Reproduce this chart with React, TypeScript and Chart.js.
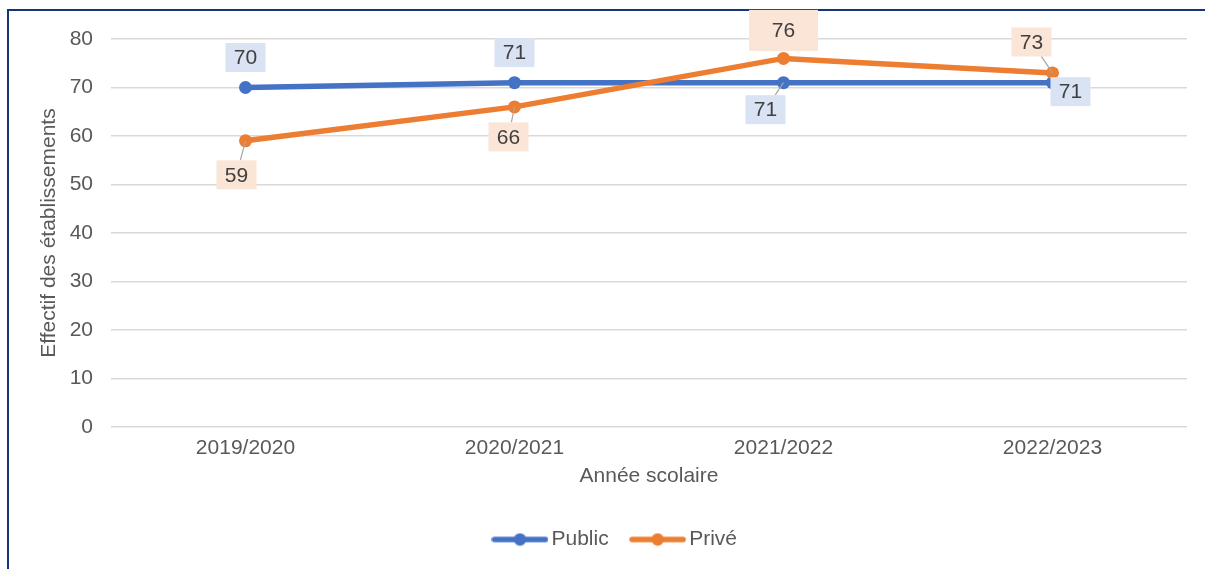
import React, { useEffect, useRef } from "react";
import { Chart, registerables } from "chart.js";

Chart.register(...registerables);

const categories = ["2019/2020", "2020/2021", "2021/2022", "2022/2023"];
const publicValues = [70, 71, 71, 71];
const priveValues = [59, 66, 76, 73];
const yTicks = [0, 10, 20, 30, 40, 50, 60, 70, 80];
const seriesNames = ["Public", "Privé"];
const xTitle = "Année scolaire";
const yTitle = "Effectif des établissements";

// label styling (offsets relative to point, box sizes, leader flags)
const publicLabelOffsets = [[0, -30], [0, -30], [-18, 27], [18, 9]];
const priveLabelOffsets = [[-9, 34], [-6, 30], [0, -28], [-21, -31]];
const publicLabelBoxes = [[40, 29], [40, 29], [40, 29], [40, 29]];
const priveLabelBoxes = [[40, 29], [40, 29], [69, 41], [40, 29]];
const publicLeaders = [false, false, true, false];
const priveLeaders = [true, true, false, true];

const BLUE = "#4472c4";
const ORANGE = "#ed7d31";
const FONT = "'Liberation Sans', Arial, Helvetica, sans-serif";
const FS = 21;
const LEGEND_SHIFT = 6;

function makeLegendIcon(color: string) {
  const c = document.createElement("canvas");
  c.width = 57;
  c.height = 14;
  const ctx = c.getContext("2d")!;
  ctx.strokeStyle = color;
  ctx.lineWidth = 5.5;
  ctx.lineCap = "round";
  ctx.beginPath();
  ctx.moveTo(3, 7);
  ctx.lineTo(54, 7);
  ctx.stroke();
  ctx.fillStyle = color;
  ctx.beginPath();
  ctx.arc(28.5, 7, 6.2, 0, Math.PI * 2);
  ctx.fill();
  return c;
}

const legendShiftPlugin = {
  id: "legendShift",
  afterLayout(chart: any) {
    const lg = chart.legend;
    if (lg) {
      lg.left += LEGEND_SHIFT;
      lg.right += LEGEND_SHIFT;
    }
  },
};

const labelsPlugin = {
  id: "boxLabels",
  afterDatasetsDraw(chart: any) {
    const ctx = chart.ctx;
    const cfgs = [
      { offsets: publicLabelOffsets, boxes: publicLabelBoxes, leaders: publicLeaders, bg: "#dae3f3" },
      { offsets: priveLabelOffsets, boxes: priveLabelBoxes, leaders: priveLeaders, bg: "#fbe5d6" },
    ];
    chart.data.datasets.forEach((ds: any, di: number) => {
      const meta = chart.getDatasetMeta(di);
      const cfg = cfgs[di];
      meta.data.forEach((pt: any, i: number) => {
        const [dx, dy] = cfg.offsets[i];
        const [w, h] = cfg.boxes[i];
        const cx = pt.x + dx;
        const cy = pt.y + dy;
        const l = cx - w / 2, t = cy - h / 2;
        if (cfg.leaders[i]) {
          const tx = dx !== 0 ? (w / 2) / Math.abs(dx) : Infinity;
          const ty = dy !== 0 ? (h / 2) / Math.abs(dy) : Infinity;
          const s = 1 - Math.min(tx, ty);
          const ex = pt.x + dx * s;
          const ey = pt.y + dy * s;
          ctx.save();
          ctx.strokeStyle = "#a6a6a6";
          ctx.lineWidth = 1.2;
          ctx.beginPath();
          ctx.moveTo(pt.x, pt.y);
          ctx.lineTo(ex, ey);
          ctx.stroke();
          ctx.restore();
        }
        ctx.save();
        ctx.fillStyle = cfg.bg;
        ctx.fillRect(l, t, w, h);
        ctx.fillStyle = "#404040";
        ctx.font = `${FS}px ${FONT}`;
        ctx.textAlign = "center";
        ctx.textBaseline = "middle";
        ctx.fillText(String(ds.data[i]), cx, cy + 1);
        ctx.restore();
      });
    });
  },
};

export default function App() {
  const ref = useRef<HTMLCanvasElement>(null);
  useEffect(() => {
    if (!ref.current) return;
    const chart = new Chart(ref.current, {
      type: "line",
      data: {
        labels: categories,
        datasets: [
          {
            label: seriesNames[0],
            data: publicValues,
            borderColor: BLUE,
            backgroundColor: BLUE,
            borderWidth: 5.5,
            pointRadius: 6.5,
            pointHoverRadius: 6.5,
            pointBorderWidth: 0,
            order: 1,
          },
          {
            label: seriesNames[1],
            data: priveValues,
            borderColor: ORANGE,
            backgroundColor: ORANGE,
            borderWidth: 5.5,
            pointRadius: 6.5,
            pointHoverRadius: 6.5,
            pointBorderWidth: 0,
            order: 0,
          },
        ],
      },
      options: {
        animation: false,
        responsive: false,
        maintainAspectRatio: false,
        layout: { padding: { left: 37, top: 39, right: 18, bottom: 0 } },
        plugins: {
          tooltip: { enabled: false },
          legend: {
            position: "bottom",
            labels: {
              usePointStyle: true,
              pointStyleWidth: 42,
              padding: 28,
              color: "#595959",
              font: { family: FONT, size: FS },
              generateLabels: (c: any) =>
                c.data.datasets.map((d: any, i: number) => ({
                  text: d.label,
                  pointStyle: makeLegendIcon(i === 0 ? BLUE : ORANGE),
                  fillStyle: d.borderColor,
                  strokeStyle: d.borderColor,
                  lineWidth: 0,
                  fontColor: "#595959",
                  datasetIndex: i,
                  hidden: false,
                })),
            },
          },
        },
        scales: {
          x: {
            offset: true,
            grid: { display: false, drawTicks: false },
            border: { display: false },
            ticks: { color: "#595959", font: { family: FONT, size: FS }, padding: 9, maxRotation: 0 },
            title: {
              display: true,
              text: xTitle,
              color: "#595959",
              font: { family: FONT, size: FS },
              padding: { top: 0, bottom: 12 },
            },
            afterFit: (s: any) => {
              s.height = 74;
            },
          },
          y: {
            min: 0,
            max: 80,
            afterBuildTicks: (s: any) => {
              s.ticks = yTicks.map((v) => ({ value: v }));
            },
            grid: { color: "#d9d9d9", lineWidth: 1.5, drawTicks: false },
            border: { display: false },
            ticks: { color: "#595959", font: { family: FONT, size: FS }, padding: 18 },
            title: {
              display: true,
              text: yTitle,
              color: "#595959",
              font: { family: FONT, size: FS },
              padding: 0,
            },
            afterFit: (s: any) => {
              s.width = 74;
            },
          },
        },
      },
      plugins: [labelsPlugin, legendShiftPlugin],
    });
    return () => chart.destroy();
  }, []);

  return (
    <div style={{ position: "fixed", left: 0, top: 0, width: 1205, height: 569, overflow: "hidden", background: "#fff" }}>
      <div
        style={{
          position: "absolute",
          left: 7,
          top: 9,
          width: 1260,
          height: 620,
          border: "2px solid #14357a",
          boxSizing: "border-box",
        }}
      />
      <canvas ref={ref} width={1205} height={560} style={{ position: "absolute", left: 0, top: 0, width: 1205, height: 560 }} />
    </div>
  );
}
